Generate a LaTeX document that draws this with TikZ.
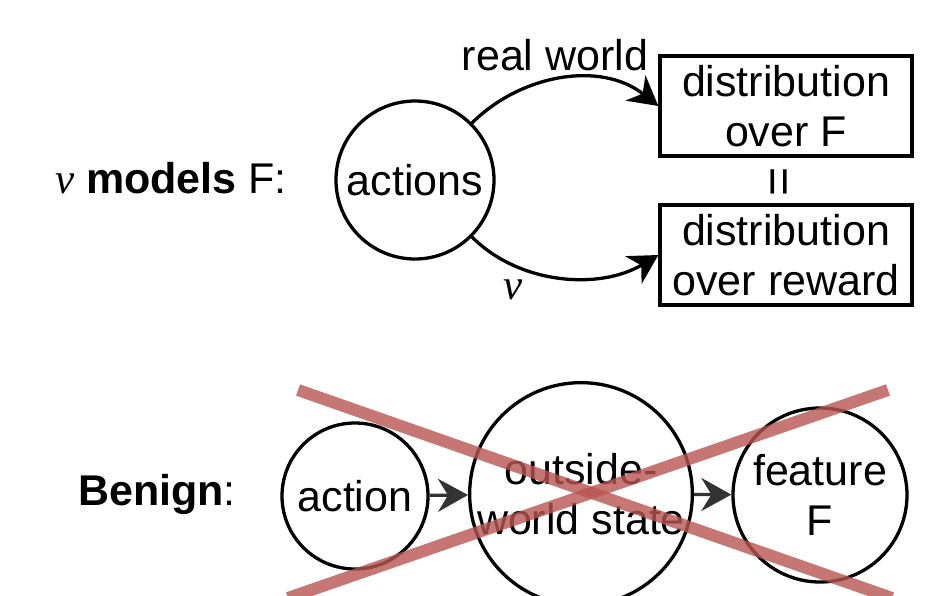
\documentclass[tikz,border=0pt]{standalone}
\usepackage{fontspec}
\setmainfont{Liberation Sans}
\newfontfamily\timesfont{Liberation Serif}
\usetikzlibrary{arrows.meta}
\definecolor{xred}{RGB}{184,84,80}
\tikzset{
  txt/.style={font=\fontsize{43}{50}\selectfont, inner sep=0pt},
  circ/.style={txt, draw, circle, line width=3.3pt, align=center},
  distbox/.style={txt, draw, rectangle, line width=3.3pt, align=center, minimum width=252pt, minimum height=100pt},
  curvearrow/.style={line width=3.3pt, -{Stealth[length=29pt,width=32pt,inset=9pt]}},
  grayarrow/.style={line width=3.3pt, draw=black!80, fill=black!80, -{Stealth[length=30pt,width=33pt,inset=10pt]}},
  xline/.style={line width=12pt, draw=xred, draw opacity=0.8},
}
\begin{document}
\begin{tikzpicture}[x=1pt, y=-1pt]
\useasboundingbox (0,0) rectangle (948,595);
\clip (0,0) rectangle (948,595);
% top part
\node[txt, anchor=base] (lab1) at (171,193) {{\timesfont\itshape ν} \textbf{models} F:};
\node[circ, minimum size=158pt] (act) at (415,180) {actions};
\node[distbox] (box1) at (786,106) {distribution\\over F};
\node[distbox] (box2) at (786,255) {distribution\\over reward};
\node[txt, rotate=90, font=\fontsize{50}{50}\selectfont] (eq) at (783,182) {=};
\draw[curvearrow] (act.45) .. controls (520,75) and (600,60) .. (box1.west);
\draw[curvearrow] (act.-45) .. controls (520,285) and (600,290) .. (box2.west);
\node[txt, anchor=base] (rw) at (555,70) {real world};
\node[txt, anchor=base] (nu) at (513,299) {\timesfont\itshape ν};
% bottom part
\node[txt, anchor=base] (lab2) at (157,505) {\textbf{Benign}:};
\node[circ, minimum size=146pt] (a1) at (355,496) {action};
\node[circ, minimum size=222pt] (ows) at (581,494) {outside-\\world state};
\node[circ, minimum size=174pt] (feat) at (820,495) {feature\\F};
\draw[grayarrow] (a1) -- (ows);
\draw[grayarrow] (ows) -- (feat);
\draw[xline] (298,390) -- (892,598);
\draw[xline] (888,390) -- (288,598);
\end{tikzpicture}
\end{document}
